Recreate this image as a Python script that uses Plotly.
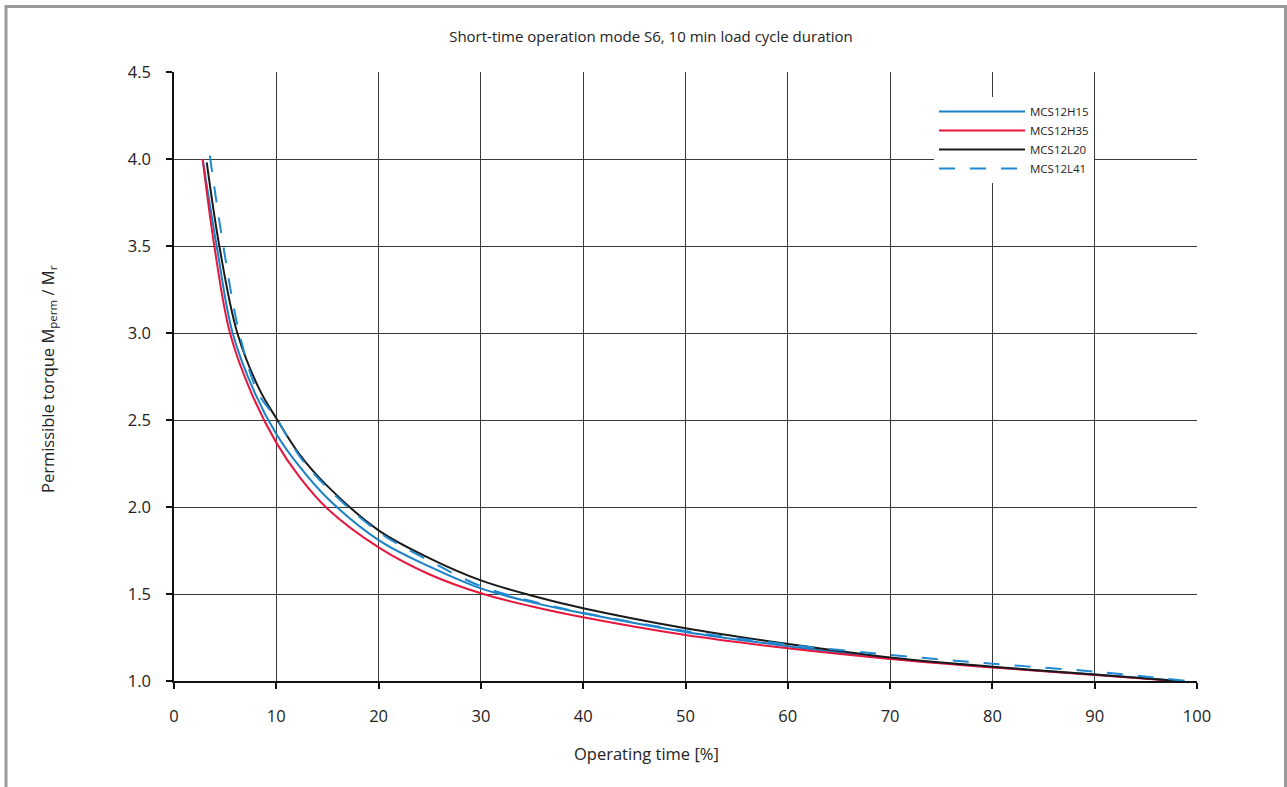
import plotly.graph_objects as go

# ---- data ----
h15_x = [2.8, 4.17, 5.73, 7.92, 10, 12.3, 15, 20, 25, 30, 35, 40, 50, 60, 70, 80, 90, 98.5]
h15_y = [4.0, 3.5, 3.0, 2.653, 2.42, 2.23, 2.05, 1.81, 1.657, 1.532, 1.452, 1.389, 1.282, 1.20, 1.13, 1.08, 1.037, 1.0]

h35_x = [2.8, 3.94, 5.47, 7.6, 10, 12.3, 15, 20, 25, 30, 35, 40, 50, 60, 70, 80, 90, 98.0]
h35_y = [4.0, 3.5, 3.0, 2.65, 2.37, 2.17, 1.99, 1.768, 1.612, 1.504, 1.428, 1.366, 1.264, 1.188, 1.127, 1.078, 1.035, 1.0]

l20_x = [3.2, 4.43, 6.19, 8.4, 10, 12.3, 15, 20, 25, 30, 35, 40, 50, 60, 70, 80, 90, 98.2]
l20_y = [3.98, 3.5, 3.0, 2.67, 2.51, 2.30, 2.12, 1.866, 1.705, 1.578, 1.49, 1.418, 1.303, 1.213, 1.135, 1.082, 1.038, 1.0]

l41_x = [3.5, 4.82, 6.38, 8.24, 10, 12.3, 15, 20, 25, 30, 35, 40, 50, 60, 70, 80, 90, 99.0]
l41_y = [4.02, 3.5, 3.0, 2.653, 2.51, 2.29, 2.11, 1.857, 1.69, 1.545, 1.458, 1.392, 1.287, 1.21, 1.15, 1.099, 1.054, 1.0]

x_ticks = [0, 10, 20, 30, 40, 50, 60, 70, 80, 90, 100]
y_ticks = [1.0, 1.5, 2.0, 2.5, 3.0, 3.5, 4.0, 4.5]

FONT = "Open Sans"
TXT = "#222222"
SM = 1.0

fig = go.Figure()
fig.add_trace(go.Scatter(x=h15_x, y=h15_y, name="MCS12H15", mode="lines",
                         line=dict(color="#1a7fc6", width=2, shape="spline", smoothing=SM)))
fig.add_trace(go.Scatter(x=h35_x, y=h35_y, name="MCS12H35", mode="lines",
                         line=dict(color="#e5173f", width=2, shape="spline", smoothing=SM)))
fig.add_trace(go.Scatter(x=l20_x, y=l20_y, name="MCS12L20", mode="lines",
                         line=dict(color="#1a1a1a", width=2, shape="spline", smoothing=SM)))
fig.add_trace(go.Scatter(x=l41_x, y=l41_y, name="MCS12L41", mode="lines",
                         line=dict(color="#1f8ad2", width=2, dash="16px,15px", shape="spline", smoothing=SM)))

L, R, T, B = 174, 90, 72, 106
W, H = 1287, 787
pw, ph = W - L - R, H - T - B

def px_to_paper_x(px):
    return (px - L) / pw

def px_to_paper_y(py):
    return (H - B - py) / ph

fig.update_layout(
    width=W, height=H,
    margin=dict(l=L, r=R, t=T, b=B, autoexpand=False),
    paper_bgcolor="white", plot_bgcolor="white",
    font=dict(family=FONT, color=TXT, size=16),
    title=dict(text="Short-time operation mode S6, 10 min load cycle duration",
               x=651 / W, xanchor="center", y=1 - 37 / H, yanchor="middle",
               font=dict(family=FONT, size=15, color=TXT)),
    showlegend=True,
    legend=dict(x=px_to_paper_x(934), y=px_to_paper_y(97), xanchor="left", yanchor="top",
                bgcolor="white", borderwidth=0, itemwidth=86,
                font=dict(family=FONT, size=11.5, color=TXT)),
    xaxis=dict(range=[0, 100], tickvals=x_ticks, ticktext=[str(v) for v in x_ticks],
               showgrid=True, gridcolor="#3a3a3a", gridwidth=1,
               showline=True, linecolor="#111111", linewidth=1.5,
               ticks="outside", ticklen=6, tickcolor="#111111", tickwidth=1.5,
               ticklabelstandoff=13, zeroline=False,
               tickfont=dict(family=FONT, size=16.5, color=TXT)),
    yaxis=dict(range=[1.0, 4.5], tickvals=y_ticks, ticktext=[f"{v:.1f}" for v in y_ticks],
               showgrid=True, gridcolor="#3a3a3a", gridwidth=1,
               showline=True, linecolor="#111111", linewidth=1.5,
               ticks="outside", ticklen=6, tickcolor="#111111", tickwidth=1.5,
               ticklabelstandoff=12, zeroline=False,
               tickfont=dict(family=FONT, size=16.5, color=TXT)),
)

fig.add_annotation(text="Operating time [%]", xref="paper", yref="paper",
                   x=px_to_paper_x(646), y=px_to_paper_y(753), xanchor="center", yanchor="middle",
                   showarrow=False, font=dict(family=FONT, size=16.5, color=TXT))
fig.add_annotation(text="Permissible torque M<sub>perm</sub> / M<sub>r</sub>", xref="paper", yref="paper",
                   x=px_to_paper_x(48), y=px_to_paper_y(379), xanchor="center", yanchor="middle",
                   textangle=-90, showarrow=False, font=dict(family=FONT, size=16.5, color=TXT))

# outer gray frame
fig.add_shape(type="rect", xref="paper", yref="paper",
              x0=px_to_paper_x(6), x1=px_to_paper_x(1285.5), y0=px_to_paper_y(795), y1=px_to_paper_y(6.5),
              line=dict(color="#9a9a9a", width=3), fillcolor="rgba(0,0,0,0)", layer="below")

fig.write_html("out.html", config={"displayModeBar": False},
               post_script="document.body.style.margin='0px';")
